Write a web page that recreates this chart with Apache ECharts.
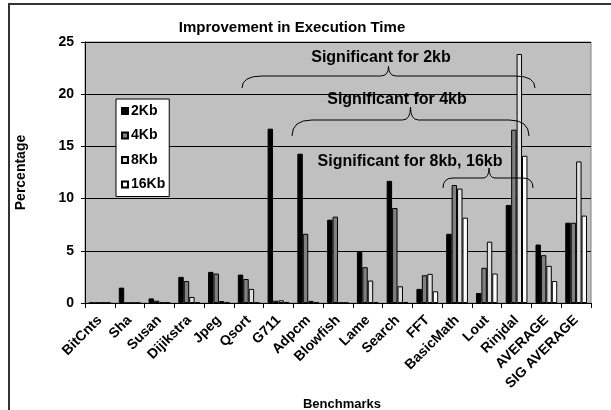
<!DOCTYPE html>
<html>
<head>
<meta charset="utf-8">
<script src="https://cdn.jsdelivr.net/npm/echarts@6/dist/echarts.min.js"></script>
<style>
  html, body { margin: 0; padding: 0; background: #fff; }
  #chart { width: 611px; height: 410px; }
</style>
</head>
<body>
<div id="chart"></div>
<script>
// Benchmarks and improvement (%) per cache size
const categories = ['BitCnts', 'Sha', 'Susan', 'Dijikstra', 'Jpeg', 'Qsort', 'G711', 'Adpcm',
  'Blowfish', 'Lame', 'Search', 'FFT', 'BasicMath', 'Lout', 'Rinjdal', 'AVERAGE', 'SIG AVERAGE'];
const kb2  = [0.03, 1.47, 0.44, 2.5, 2.98, 2.72, 16.7, 14.3, 7.98, 4.9, 11.7, 1.35, 6.63, 0.96, 9.39, 5.6, 7.69];
const kb4  = [0.03, 0.02, 0.22, 2.1, 2.82, 2.3, 0.22, 6.63, 8.27, 3.43, 9.1, 2.66, 11.3, 3.37, 16.6, 4.58, 7.69];
const kb8  = [0.03, 0.02, 0.05, 0.58, 0.19, 1.35, 0.26, 0.2, 0.03, 2.15, 1.6, 2.79, 10.96, 5.87, 23.85, 3.56, 13.56];
const kb16 = [0.03, 0.02, 0.05, 0.05, 0.1, 0.02, 0.1, 0.05, 0.02, 0.1, 0.1, 1.12, 8.17, 2.82, 14.1, 2.1, 8.37];
const seriesNames = ['2Kb', '4Kb', '8Kb', '16Kb'];
const yTicks = { min: 0, max: 25, interval: 5 };

const FONT = '"Liberation Sans", Arial, sans-serif';
const colors = ['#000000', '#808080', '#e0e0e0', '#ffffff'];
const values = [kb2, kb4, kb8, kb16];

// curly brace built from quadratic curves and straight runs:
// ends at (x1,yEnd)/(x2,yEnd), flat run at yLine, point at (xt,yt)
function brace(x1, x2, yEnd, yLine, xt, yt, r, rt) {
  const st = { fill: null, stroke: '#000', lineWidth: 1 };
  const curve = (ax, ay, bx, by, cx, cy) => ({
    type: 'bezierCurve', z: 100, silent: true, style: st,
    shape: { x1: ax, y1: ay, x2: bx, y2: by, cpx1: cx, cpy1: cy }
  });
  const line = (ax, ay, bx, by) => ({
    type: 'line', z: 100, silent: true, style: st,
    shape: { x1: ax, y1: ay, x2: bx, y2: by }
  });
  return [
    curve(x1, yEnd, x1 + r, yLine, x1, yLine),
    line(x1 + r, yLine, xt - rt, yLine),
    curve(xt - rt, yLine, xt, yt, xt, yLine),
    curve(xt, yt, xt + rt, yLine, xt, yLine),
    line(xt + rt, yLine, x2 - r, yLine),
    curve(x2 - r, yLine, x2, yEnd, x2, yLine)
  ];
}

const chart = echarts.init(document.getElementById('chart'), null, { renderer: 'canvas' });
const option = {
  backgroundColor: '#ffffff',
  animation: false,
  textStyle: { fontFamily: FONT },
  title: {
    text: 'Improvement in Execution Time',
    left: 287, top: 15, textAlign: 'center',
    textStyle: { fontFamily: FONT, fontSize: 15, fontWeight: 'bold', color: '#000' }
  },
  legend: {
    orient: 'vertical',
    left: 116, top: 99,
    padding: [5, 4, 5, 5],
    itemGap: 10.5,
    itemWidth: 6, itemHeight: 6,
    icon: 'rect',
    backgroundColor: '#ffffff',
    borderColor: '#000000', borderWidth: 1,
    textStyle: { fontFamily: FONT, fontSize: 14, fontWeight: 'bold', color: '#000', padding: [0, 0, 0, -2] },
    data: seriesNames
  },
  grid: {
    left: 85, right: 20, top: 42, bottom: 107,
    containLabel: false,
    outerBoundsMode: 'none',
    show: true, backgroundColor: '#c0c0c0', borderColor: '#808080', borderWidth: 1
  },
  xAxis: {
    type: 'category',
    data: categories,
    name: 'Benchmarks',
    nameLocation: 'middle',
    nameGap: 89,
    nameTextStyle: { fontFamily: FONT, fontSize: 13, fontWeight: 'bold', color: '#000', padding: [0, 0, 0, 8] },
    axisLine: { lineStyle: { color: '#000', width: 1 } },
    axisTick: { show: true, length: 5, lineStyle: { color: '#000' } },
    axisLabel: {
      interval: 0, rotate: 45, margin: 15,
      fontFamily: FONT, fontSize: 14, fontWeight: 'bold', color: '#000'
    }
  },
  yAxis: {
    type: 'value',
    min: yTicks.min, max: yTicks.max, interval: yTicks.interval,
    name: 'Percentage',
    nameLocation: 'middle',
    nameGap: 57,
    nameTextStyle: { fontFamily: FONT, fontSize: 14, fontWeight: 'bold', color: '#000' },
    axisLine: { show: true, lineStyle: { color: '#000', width: 1 } },
    axisTick: { show: true, length: 4, lineStyle: { color: '#000' } },
    axisLabel: { margin: 11, fontFamily: FONT, fontSize: 14, fontWeight: 'bold', color: '#000' },
    splitLine: { show: true, lineStyle: { color: '#000', width: 1 } }
  },
  series: seriesNames.map((name, i) => ({
    name: name,
    type: 'bar',
    data: values[i],
    barGap: '0%',
    barCategoryGap: '27%',
    itemStyle: { color: colors[i], borderColor: '#000', borderWidth: 1 }
  })),
  graphic: [
    // outer chart frame
    { type: 'rect', shape: { x: 9, y: 4, width: 700, height: 500 }, style: { fill: null, stroke: '#333', lineWidth: 2 }, silent: true, z: 100 },
    // significance braces and their captions
    ...brace(242, 535, 88, 76, 388.5, 66.5, 20, 8),
    ...brace(292, 529, 136, 120, 410.5, 107, 20, 8),
    ...brace(443, 533, 188, 178, 489, 168, 10, 6),
    { type: 'text', x: 381, y: 58, z: 100, style: { text: 'Significant for 2kb', font: 'bold 16px ' + FONT, fill: '#000', textAlign: 'center', textVerticalAlign: 'middle' } },
    { type: 'text', x: 397, y: 100, z: 100, style: { text: 'Significant for 4kb', font: 'bold 16px ' + FONT, fill: '#000', textAlign: 'center', textVerticalAlign: 'middle' } },
    { type: 'text', x: 410, y: 162, z: 100, style: { text: 'Significant for 8kb, 16kb', font: 'bold 16px ' + FONT, fill: '#000', textAlign: 'center', textVerticalAlign: 'middle' } }
  ]
};
chart.setOption(option);
</script>
</body>
</html>
